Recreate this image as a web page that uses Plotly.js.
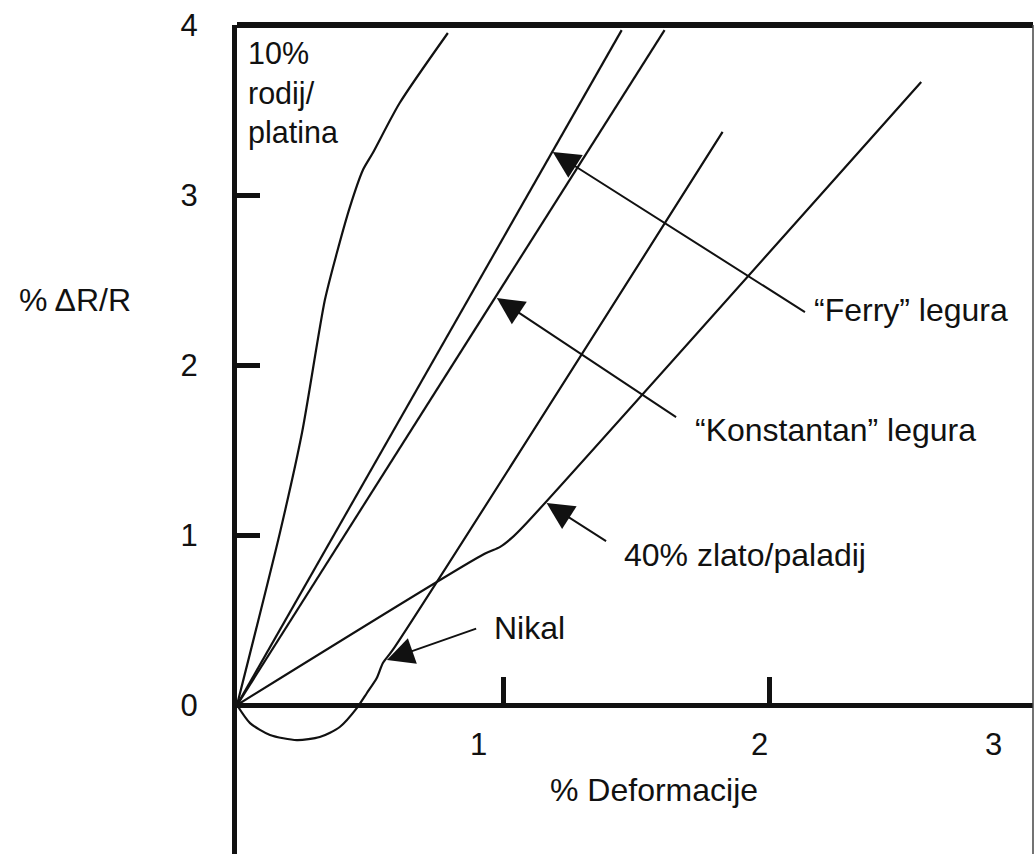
<!DOCTYPE html>
<html>
<head>
<meta charset="utf-8">
<script src="https://cdn.plot.ly/plotly-3.0.1.min.js"></script>
<style>html,body{margin:0;padding:0;background:#fff;}#chart{width:1034px;height:854px;}</style>
</head>
<body>
<div id="chart"></div>
<script>
// ---- data ----
const rodijX = [0, 0.161, 0.244, 0.330, 0.375, 0.424, 0.473, 0.510, 0.611, 0.792];
const rodijY = [0, 1.012, 1.600, 2.382, 2.659, 2.929, 3.147, 3.247, 3.541, 3.953];
const ferryX = [0, 1.445];
const ferryY = [0, 3.97];
const konstX = [0, 1.606];
const konstY = [0, 3.97];
const nikalX = [0, 0.049, 0.124, 0.225, 0.311, 0.386, 0.450, 0.488, 0.525, 0.548, 0.585, 1.824];
const nikalY = [0, -0.106, -0.176, -0.206, -0.188, -0.129, -0.018, 0.071, 0.159, 0.247, 0.324, 3.371];
const zlatoX = [0, 0.93, 0.987, 1.03, 1.088, 2.570];
const zlatoY = [0, 0.89, 0.929, 0.98, 1.071, 3.665];

const xTickVals = [1, 2, 3];
const xTickText = ['1', '2', '3'];
const yTickVals = [0, 1, 2, 3, 4];
const yTickText = ['0', '1', '2', '3', '4'];

const labelRodij = '10%<br>rodij/<br>platina';
const labelFerry = '\u201CFerry\u201D legura';
const labelKonst = '\u201CKonstantan\u201D legura';
const labelZlato = '40% zlato/paladij';
const labelNikal = 'Nikal';
const yTitle = '% \u0394R/R';
const xTitle = '% Deformacije';

// ---- styling ----
const FONT = 'Liberation Sans, Arial, sans-serif';
const INK = '#111';
const xRange = [0, 2.99];
const yRange = [-0.876, 4];
const xAxisPos = (0 - yRange[0]) / (yRange[1] - yRange[0]);
const xLabelShift = [-25, -10, -42];

function tr(x, y, smooth) {
  const line = {color: INK, width: 2.2};
  if (smooth) { line.shape = 'spline'; line.smoothing = 0.7; }
  return {x: x, y: y, type: 'scatter', mode: 'lines', line: line, hoverinfo: 'skip', showlegend: false, cliponaxis: false};
}
const traces = [tr(rodijX, rodijY, true), tr(ferryX, ferryY), tr(konstX, konstY), tr(nikalX, nikalY, true), tr(zlatoX, zlatoY, true)];

// arrows: tip (x,y) and tail (ax,ay) in data units
const arrows = [
  {x: 1.186, y: 3.253, ax: 2.139, ay: 2.306},
  {x: 0.976, y: 2.394, ax: 1.655, ay: 1.688},
  {x: 1.163, y: 1.188, ax: 1.392, ay: 0.959},
  {x: 0.563, y: 0.265, ax: 0.904, ay: 0.453}
];
const annotations = [];
arrows.forEach(a => annotations.push({
  x: a.x, y: a.y, ax: a.ax, ay: a.ay, xref: 'x', yref: 'y', axref: 'x', ayref: 'y',
  text: '', showarrow: true, arrowhead: 2, arrowsize: 2.7, arrowwidth: 2, arrowcolor: INK
}));
const textFont = {family: FONT, size: 32, color: INK};
const labels = [
  {x: 2.161, y: 2.324, text: labelFerry},
  {x: 1.711, y: 1.618, text: labelKonst},
  {x: 1.445, y: 0.882, text: labelZlato},
  {x: 0.957, y: 0.453, text: labelNikal}
];
labels.forEach(l => annotations.push({
  x: l.x, y: l.y, xref: 'x', yref: 'y', text: l.text, showarrow: false,
  xanchor: 'left', yanchor: 'middle', font: textFont
}));
annotations.push({x: 0.035, y: 3.95, xref: 'x', yref: 'y', text: labelRodij, showarrow: false,
  xanchor: 'left', yanchor: 'top', align: 'left', font: {family: FONT, size: 30.5, color: INK}});
// x tick labels (placed in paper units so the last one at the edge is not dropped)
xTickVals.forEach((v, i) => annotations.push({
  x: (v - xRange[0]) / (xRange[1] - xRange[0]), y: xAxisPos, xref: 'paper', yref: 'paper', text: xTickText[i], showarrow: false,
  xanchor: 'center', yanchor: 'top', xshift: xLabelShift[i], yshift: -20,
  font: {family: FONT, size: 31, color: INK}
}));
// axis titles
annotations.push({x: (75 - 237) / 796, y: 1 - (300 - 25) / 829, xref: 'paper', yref: 'paper', text: yTitle, showarrow: false,
  font: {family: FONT, size: 32, color: INK}, xanchor: 'center', yanchor: 'middle'});
annotations.push({x: (654 - 237) / 796, y: 1 - (790 - 25) / 829, xref: 'paper', yref: 'paper', text: xTitle, showarrow: false,
  font: {family: FONT, size: 32, color: INK}, xanchor: 'center', yanchor: 'middle'});

const layout = {
  width: 1034, height: 854,
  margin: {l: 237, r: 1, t: 25, b: 0, pad: 0},
  paper_bgcolor: '#fff', plot_bgcolor: '#fff',
  showlegend: false,
  xaxis: {
    range: xRange, anchor: 'free', position: xAxisPos, side: 'bottom',
    showgrid: false, zeroline: false, showline: true, linecolor: INK, linewidth: 5,
    ticks: 'inside', tickvals: [1, 2], ticklen: 26, tickwidth: 5, tickcolor: INK,
    showticklabels: false, fixedrange: true
  },
  yaxis: {
    range: yRange, showgrid: false, zeroline: false, showline: true, linecolor: INK, linewidth: 5,
    ticks: 'inside', tickvals: yTickVals, ticktext: yTickText, ticklen: 23, tickwidth: 5, tickcolor: INK,
    ticklabelstandoff: 28,
    tickfont: {family: FONT, size: 31, color: INK}, fixedrange: true
  },
  shapes: [
    {type: 'line', xref: 'paper', yref: 'paper', x0: 0, x1: 1, y0: 1, y1: 1, line: {color: INK, width: 6}},
    {type: 'line', xref: 'paper', yref: 'paper', x0: 1, x1: 1, y0: 0, y1: 1, line: {color: '#444', width: 1.5}}
  ],
  annotations: annotations
};

Plotly.newPlot('chart', traces, layout, {staticPlot: true, displayModeBar: false});
</script>
</body>
</html>
